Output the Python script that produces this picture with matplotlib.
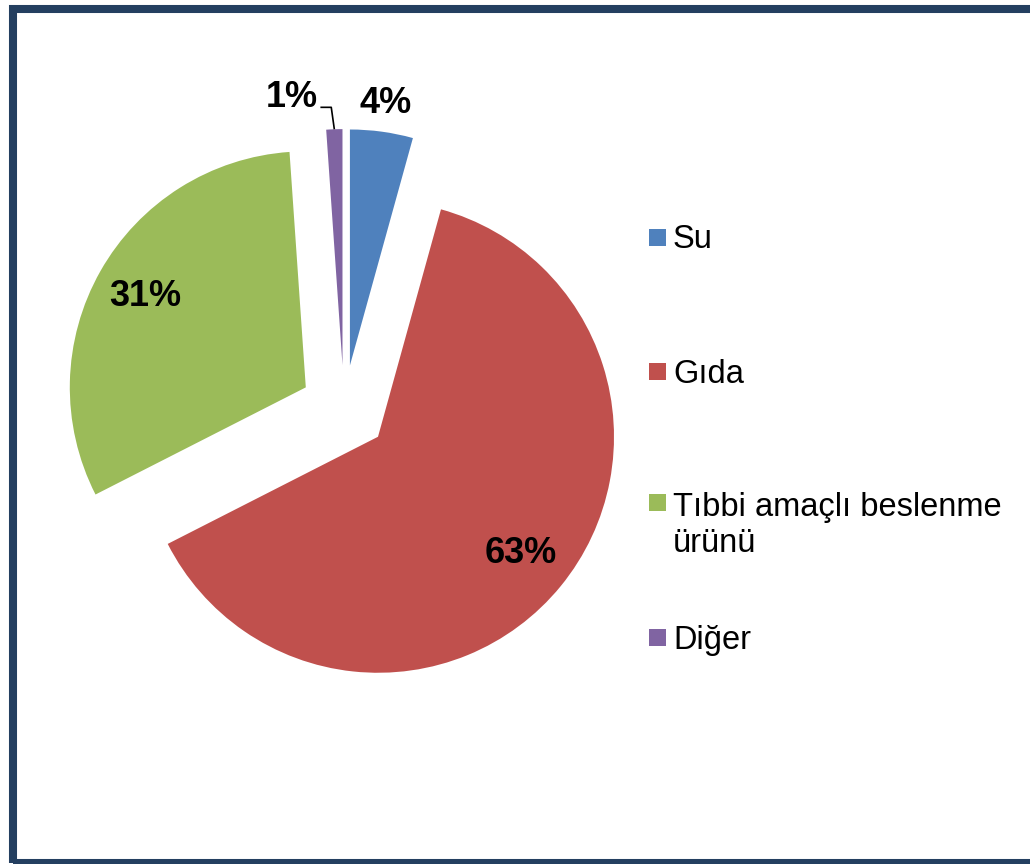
import numpy as np
import matplotlib
matplotlib.use("Agg")
import matplotlib.pyplot as plt
from matplotlib.patches import Rectangle

categories = ["Su", "Gıda", "Tıbbi amaçlı beslenme\nürünü", "Diğer"]
values = [4.3, 63.2, 31.4, 1.1]
colors = ["#4F81BD", "#C0504D", "#9BBB59", "#8064A2"]

plt.rcParams["font.family"] = ["Liberation Sans", "DejaVu Sans"]

W, H = 1030, 864
fig = plt.figure(figsize=(W / 100, H / 100), dpi=100)
fig.patch.set_facecolor("white")

# pie centre (px) and radius (px)
cx, cy, R = 344, 409, 236
ax = fig.add_axes([0, 0, 1, 1])

explode = [0.186] * len(values)
wedges, texts, autotexts = ax.pie(
    values, colors=colors, explode=explode, startangle=90, counterclock=False,
    autopct="%.0f%%", pctdistance=0.78, radius=1.0,
    textprops=dict(fontsize=26, fontweight="bold", color="black"),
    wedgeprops=dict(linewidth=0),
)
for t in texts:
    t.set_visible(False)
ax.set_aspect("auto")
ax.set_xlim(-cx / R, (W - cx) / R)
ax.set_ylim((cy - H) / R, cy / R)
ax.axis("off")

# Su label outside
w = wedges[0]
mid = np.deg2rad((w.theta1 + w.theta2) / 2)
c = np.array(w.center)
autotexts[0].set_position(c + 1.12 * np.array([np.cos(mid), np.sin(mid)]))

# Diğer label with leader line
w = wedges[3]
mid = np.deg2rad((w.theta1 + w.theta2) / 2)
c = np.array(w.center)
tip = c + 1.0 * np.array([np.cos(mid), np.sin(mid)])
elbow = tip + np.array([-0.013, 0.093])
start = elbow + np.array([-0.046, 0.0])
ax.plot([start[0], elbow[0], tip[0]], [start[1], elbow[1], tip[1]],
        color="black", lw=1.2, solid_capstyle="butt")
autotexts[3].set_position((start[0] - 0.012, start[1] + 0.04))
autotexts[3].set_ha("right")
autotexts[3].set_va("center")

# legend drawn manually
leg_y = [237, 371, 502, 637]
for lab, col, yy in zip(categories, colors, leg_y):
    fig.patches.append(Rectangle((649 / W, (H - yy - 8.5) / H), 17 / W, 17 / H,
                                 transform=fig.transFigure, facecolor=col,
                                 edgecolor="none"))
    nl = lab.count("\n")
    base = yy + 11.5 + nl * 38
    fig.text(673 / W, (H - base) / H, lab, fontsize=23.5, ha="left",
             va="baseline", linespacing=1.2)

# frame
fig.patches.append(Rectangle((12.5 / W, 0.7 / H), 1.2, (863.3 - 8.5) / H,
                             transform=fig.transFigure, facecolor="none",
                             edgecolor="#243F60", linewidth=5.8))

fig.savefig("out.png", dpi=100, facecolor="white")
